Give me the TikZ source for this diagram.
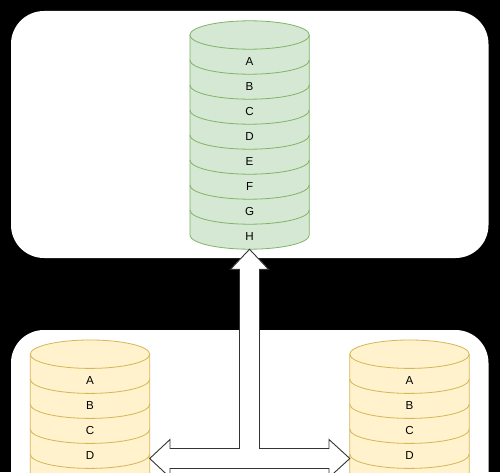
\documentclass[tikz,border=0pt]{standalone}
\usepackage{fontspec}
\setmainfont{Liberation Sans}
\definecolor{gfill}{HTML}{D5E8D4}
\definecolor{gline}{HTML}{82B366}
\definecolor{yfill}{HTML}{FFF2CC}
\definecolor{yline}{HTML}{D6B656}
\definecolor{aline}{HTML}{333333}
\tikzset{
  panel/.style={fill=white, rounded corners=33pt},
  lbl/.style={font=\fontsize{11.6}{13}\selectfont, inner sep=0pt},
  bigarrow/.style={fill=white, draw=aline, line width=0.9pt, line join=miter},
}
% #1 cx, #2 top-ellipse centre Y, #3 bottom Y of body, #4 fill, #5 line, #6 number of separators
\newcommand{\stackcyl}[6]{%
  \fill[#4] (#1-59.7,#2) -- (#1-59.7,#3) arc[start angle=180,end angle=360,x radius=59.7,y radius=14.2] -- (#1+59.7,#2) arc[start angle=0,end angle=180,x radius=59.7,y radius=14.2] -- cycle;
  \draw[#5, line width=0.8pt] (#1-59.7,#2) -- (#1-59.7,#3) arc[start angle=180,end angle=360,x radius=59.7,y radius=14.2] -- (#1+59.7,#2);
  \draw[#5, line width=0.8pt] (#1,#2) ellipse[x radius=59.7,y radius=14.2];
  \foreach \k in {1,...,#6} {
    \draw[#5, line width=0.8pt] (#1-59.7,#2-25*\k) arc[start angle=180,end angle=360,x radius=59.7,y radius=14.2];
  }%
}
\begin{document}
\begin{tikzpicture}[x=1pt,y=1pt]
\useasboundingbox (0,0) rectangle (500,472);
\clip (0,0) rectangle (500,472);
\fill[black] (0,0) rectangle (500,472);
% panels
\fill[panel] (11,214) rectangle (488.5,461);
\fill[panel] (11,-110) rectangle (488.5,142);
% top cylinder
\stackcyl{249.6}{437}{237}{gfill}{gline}{7}
\foreach \t [count=\i from 0] in {A,B,C,D,E,F,G,H} {
  \node[lbl] (t\t) at (249.6,410.2-25*\i) {\t};
}
% bottom cylinders
\stackcyl{90}{117.8}{-60}{yfill}{yline}{5}
\stackcyl{409.5}{117.8}{-60}{yfill}{yline}{5}
\foreach \t [count=\i from 0] in {A,B,C,D} {
  \node[lbl] (l\t) at (90,91-25*\i) {\t};
  \node[lbl] (r\t) at (409.5,91-25*\i) {\t};
}
% three-way arrow
\coordinate (tipT) at (249.5,222.7);
\coordinate (tipL) at (149.7,13.5);
\coordinate (tipR) at (349.8,13.5);
\draw[bigarrow] (tipT) -- (268.5,202.7) -- (259.5,202.7) -- (259.5,23.5)
  -- (329,23.5) -- (329,32.5) -- (tipR) -- (329,-5.5) -- (329,3.5)
  -- (170,3.5) -- (170,-5.5) -- (tipL) -- (170,32.5) -- (170,23.5)
  -- (239.5,23.5) -- (239.5,202.7) -- (230.5,202.7) -- cycle;
\end{tikzpicture}
\end{document}
